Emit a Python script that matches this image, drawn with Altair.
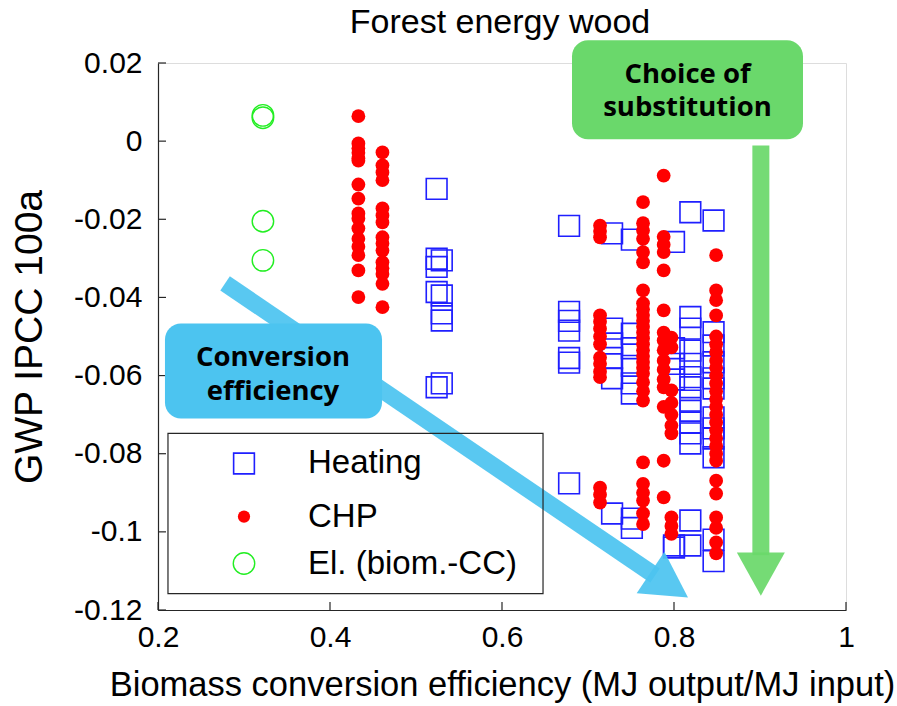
import altair as alt
import pandas as pd

# Plot area size (pixels)
W, H = 688, 547

# ---- data -------------------------------------------------------------
heat_x = [0.524, 0.524, 0.530, 0.524, 0.524, 0.530, 0.530, 0.530, 0.530, 0.524,
          0.678, 0.678, 0.678, 0.678, 0.678, 0.678, 0.678,
          0.728, 0.728, 0.728, 0.728, 0.728, 0.728,
          0.751, 0.751, 0.751, 0.751, 0.751, 0.751, 0.751, 0.751,
          0.800, 0.800, 0.800, 0.800, 0.800, 0.800,
          0.819, 0.819, 0.819, 0.819, 0.819, 0.819, 0.819, 0.819, 0.819, 0.819, 0.819, 0.819, 0.819, 0.819,
          0.846, 0.846, 0.846, 0.846, 0.846, 0.846, 0.846, 0.846, 0.846, 0.846, 0.846, 0.846]
heat_y = [-0.0122, -0.0301, -0.0305, -0.0322, -0.0386, -0.0395, -0.0441, -0.0459, -0.0620, -0.0630,
          -0.0217, -0.0437, -0.0460, -0.0485, -0.0555, -0.0567, -0.0876,
          -0.0236, -0.0480, -0.0518, -0.0555, -0.0607, -0.0953,
          -0.0252, -0.0493, -0.0530, -0.0575, -0.0620, -0.0646, -0.0966, -0.0990,
          -0.0258, -0.0530, -0.0570, -0.0610, -0.1035, -0.1040,
          -0.0182, -0.0450, -0.0480, -0.0536, -0.0570, -0.0604, -0.0630, -0.0664, -0.0690, -0.0720, -0.0748, -0.0774, -0.0971, -0.1035,
          -0.0203, -0.0489, -0.0523, -0.0566, -0.0607, -0.0633, -0.0707, -0.0735, -0.0761, -0.0809, -0.1020, -0.1075]

chp_cols = {
    0.433: [0.0064, -0.0006, -0.0018, -0.0030, -0.0044, -0.0050, -0.0111, -0.0147, -0.0185,
            -0.0198, -0.0223, -0.0250, -0.0270, -0.0292, -0.0331, -0.0399],
    0.461: [-0.0029, -0.0062, -0.0080, -0.0100, -0.0172, -0.0190, -0.0208, -0.0246, -0.0262,
            -0.0280, -0.0310, -0.0325, -0.0340, -0.0365, -0.0425],
    0.714: [-0.0216, -0.0230, -0.0246, -0.0446, -0.0462, -0.0480, -0.0500, -0.0520, -0.0554,
            -0.0570, -0.0590, -0.0604, -0.0887, -0.0905, -0.0925],
    0.764: [-0.0156, -0.0210, -0.0229, -0.0250, -0.0284, -0.0310, -0.0382, -0.0415, -0.0430,
            -0.0445, -0.0460, -0.0475, -0.0490, -0.0505, -0.0520, -0.0535, -0.0550, -0.0565,
            -0.0580, -0.0595, -0.0617, -0.0640, -0.0664, -0.0822, -0.0877, -0.0900, -0.0920,
            -0.0953, -0.0980],
    0.788: [-0.0088, -0.0245, -0.0265, -0.0284, -0.0331, -0.0433, -0.0490, -0.0510, -0.0535,
            -0.0562, -0.0585, -0.0610, -0.0630, -0.0680, -0.0818, -0.0912],
    0.797: [-0.0503, -0.0528, -0.0638, -0.0670, -0.0700, -0.0728, -0.0748, -0.0963, -0.0985,
            -0.1005],
    0.849: [-0.0292, -0.0382, -0.0407, -0.0446, -0.0500, -0.0520, -0.0540, -0.0562, -0.0580,
            -0.0600, -0.0620, -0.0640, -0.0660, -0.0680, -0.0700, -0.0720, -0.0740, -0.0760,
            -0.0780, -0.0800, -0.0818, -0.0869, -0.0902, -0.0963, -0.0990, -0.1027, -0.1055],
}
chp_x = [x for x, ys in chp_cols.items() for _ in ys]
chp_y = [y for ys in chp_cols.values() for y in ys]

el_x = [0.322, 0.322, 0.322, 0.322]
el_y = [0.0066, 0.0060, -0.0205, -0.0305]

x_ticks = [0.2, 0.4, 0.6, 0.8, 1.0]
y_ticks = [-0.12, -0.1, -0.08, -0.06, -0.04, -0.02, 0.0, 0.02]

legend_labels = ["Heating", "CHP", "El. (biom.-CC)"]
legend_rows = [-0.0825, -0.0961, -0.1081]

# ---- styling ----------------------------------------------------------
FONT = "Liberation Sans"
BOLD = "Open Sans"
BLUE = "#1f1fff"
RED = "#ff0000"
GREEN = "#22ee22"
ARROW_BLUE = "#4cc4f0"
ARROW_GREEN = "#6ad86b"

xs = alt.Scale(domain=[0.2, 1.0], nice=False, zero=False)
ys = alt.Scale(domain=[-0.12, 0.02], nice=False, zero=False)

x_axis = alt.Axis(values=x_ticks, labelExpr="'' + round(datum.value*10)/10",
                  ticks=False, grid=False, domainColor="#262626", domainWidth=1.2,
                  labelFont=FONT, labelFontSize=30, labelColor="black", labelPadding=12,
                  labelFlush=False, labelOverlap=False,
                  title="Biomass conversion efficiency (MJ output/MJ input)",
                  titleFont=FONT, titleFontSize=34.5, titleFontWeight="normal",
                  titleColor="black", titlePadding=16)
y_axis = alt.Axis(values=y_ticks, labelExpr="'' + round(datum.value*100)/100",
                  ticks=False, grid=False, domainColor="#262626", domainWidth=1.2,
                  labelFont=FONT, labelFontSize=30, labelColor="black", labelPadding=16,
                  labelFlush=False, labelOverlap=False,
                  title="GWP IPCC 100a", titleFont=FONT, titleFontSize=39,
                  titleFontWeight="normal", titleColor="black", titlePadding=24)


def X(field="x"):
    return alt.X(f"{field}:Q", scale=xs)


def Y(field="y"):
    return alt.Y(f"{field}:Q", scale=ys)


heat_df = pd.DataFrame({"x": heat_x, "y": heat_y})
chp_df = pd.DataFrame({"x": chp_x, "y": chp_y})
el_df = pd.DataFrame({"x": el_x, "y": el_y})

heat = alt.Chart(heat_df).mark_point(shape="square", size=430, filled=False,
                                     stroke=BLUE, strokeWidth=1.6, opacity=1).encode(
    x=alt.X("x:Q", scale=xs, axis=x_axis),
    y=alt.Y("y:Q", scale=ys, axis=y_axis),
)
chp = alt.Chart(chp_df).mark_point(shape="circle", size=190, filled=True,
                                   fill=RED, opacity=1, strokeWidth=0).encode(x=X(), y=Y())
el = alt.Chart(el_df).mark_point(shape="circle", size=460, filled=False,
                                 stroke=GREEN, strokeWidth=1.4, opacity=1).encode(x=X(), y=Y())

# inward tick marks (left and bottom axes)
xt = alt.Chart(pd.DataFrame({"x": x_ticks})).mark_rule(color="#262626", strokeWidth=1.2).encode(
    x=X(), y=alt.value(H), y2=alt.value(H - 8))
yt = alt.Chart(pd.DataFrame({"y": y_ticks})).mark_rule(color="#262626", strokeWidth=1.2).encode(
    y=Y(), x=alt.value(0), x2=alt.value(8))

# chart title, centred above the plot area
title = alt.Chart(pd.DataFrame({"t": ["Forest energy wood"]})).mark_text(
    font=FONT, fontSize=34, color="black", align="center", baseline="alphabetic").encode(
    x=alt.value(W / 2 - 2), y=alt.value(-30), text="t:N")

# ---- annotations ------------------------------------------------------
# arrow shafts (start -> end in data units)
shaft_df = pd.DataFrame({
    "x": [0.278, 0.901], "y": [-0.0364, -0.0011],
    "x2": [0.778, 0.901], "y2": [-0.1112, -0.1060],
    "c": [ARROW_BLUE, ARROW_GREEN],
})
shafts = alt.Chart(shaft_df).mark_rule(strokeWidth=17, strokeCap="butt", opacity=0.93).encode(
    x=X(), y=Y(), x2="x2:Q", y2="y2:Q", color=alt.Color("c:N", scale=None))

TRI = "M 0 -0.9 L 1 0.9 L -1 0.9 Z"
head_df = pd.DataFrame({
    "x": [0.7945, 0.901], "y": [-0.1136, -0.1108],
    "a": [123.7, 180.0], "s": [2500, 2304],
    "c": [ARROW_BLUE, ARROW_GREEN],
})
heads = alt.Chart(head_df).mark_point(shape=TRI, filled=True, opacity=0.93, strokeWidth=0).encode(
    x=X(), y=Y(),
    angle=alt.Angle("a:Q", scale=None), size=alt.Size("s:Q", scale=None),
    fill=alt.Fill("c:N", scale=None))

box_df = pd.DataFrame({
    "x": [0.6814, 0.2081], "x2": [0.9500, 0.4605],
    "y": [0.0258, -0.0467], "y2": [0.00046, -0.0710],
    "c": [ARROW_GREEN, ARROW_BLUE],
})
boxes = alt.Chart(box_df).mark_rect(cornerRadius=16).encode(
    x=X(), x2="x2:Q", y=Y(), y2="y2:Q", fill=alt.Fill("c:N", scale=None))

box_text_df = pd.DataFrame({
    "x": [0.8157, 0.8157, 0.3337, 0.3337],
    "y": [0.0169, 0.0084, -0.0554, -0.0643],
    "t": ["Choice of", "substitution", "Conversion", "efficiency"],
})
box_text = alt.Chart(box_text_df).mark_text(font=BOLD, fontWeight="bold", fontSize=27.5,
                                            color="black", baseline="middle", align="center").encode(
    x=X(), y=Y(), text="t:N")

# ---- legend -----------------------------------------------------------
leg_frame = alt.Chart(pd.DataFrame({"x": [0.2116], "x2": [0.6477], "y": [-0.0748], "y2": [-0.1158]})).mark_rect(
    fill=None, stroke="#262626", strokeWidth=1.2).encode(x=X(), x2="x2:Q", y=Y(), y2="y2:Q")

leg_heat = alt.Chart(pd.DataFrame({"x": [0.300], "y": [legend_rows[0]]})).mark_point(
    shape="square", size=430, filled=False, stroke=BLUE, strokeWidth=1.6, opacity=1).encode(x=X(), y=Y())
leg_chp = alt.Chart(pd.DataFrame({"x": [0.300], "y": [legend_rows[1]]})).mark_point(
    shape="circle", size=150, filled=True, fill=RED, opacity=1, strokeWidth=0).encode(x=X(), y=Y())
leg_el = alt.Chart(pd.DataFrame({"x": [0.300], "y": [legend_rows[2]]})).mark_point(
    shape="circle", size=460, filled=False, stroke=GREEN, strokeWidth=1.4, opacity=1).encode(x=X(), y=Y())
leg_text = alt.Chart(pd.DataFrame({"x": [0.3744] * 3, "y": legend_rows, "t": legend_labels})).mark_text(
    font=FONT, fontSize=33, color="black", align="left", baseline="middle").encode(
    x=X(), y=Y(), text="t:N")

chart = alt.layer(
    heat, chp, el, xt, yt, shafts, heads, boxes, box_text,
    leg_frame, leg_heat, leg_chp, leg_el, leg_text, title,
).properties(
    width=W, height=H,
    autosize=alt.AutoSizeParams(type="none"),
    padding={"left": 158, "top": 63, "right": 51, "bottom": 96},
).configure_view(stroke="#b4b4b4", strokeWidth=1).configure(background="white")

chart.save("out.html", embed_options={"renderer": "svg", "actions": False})
